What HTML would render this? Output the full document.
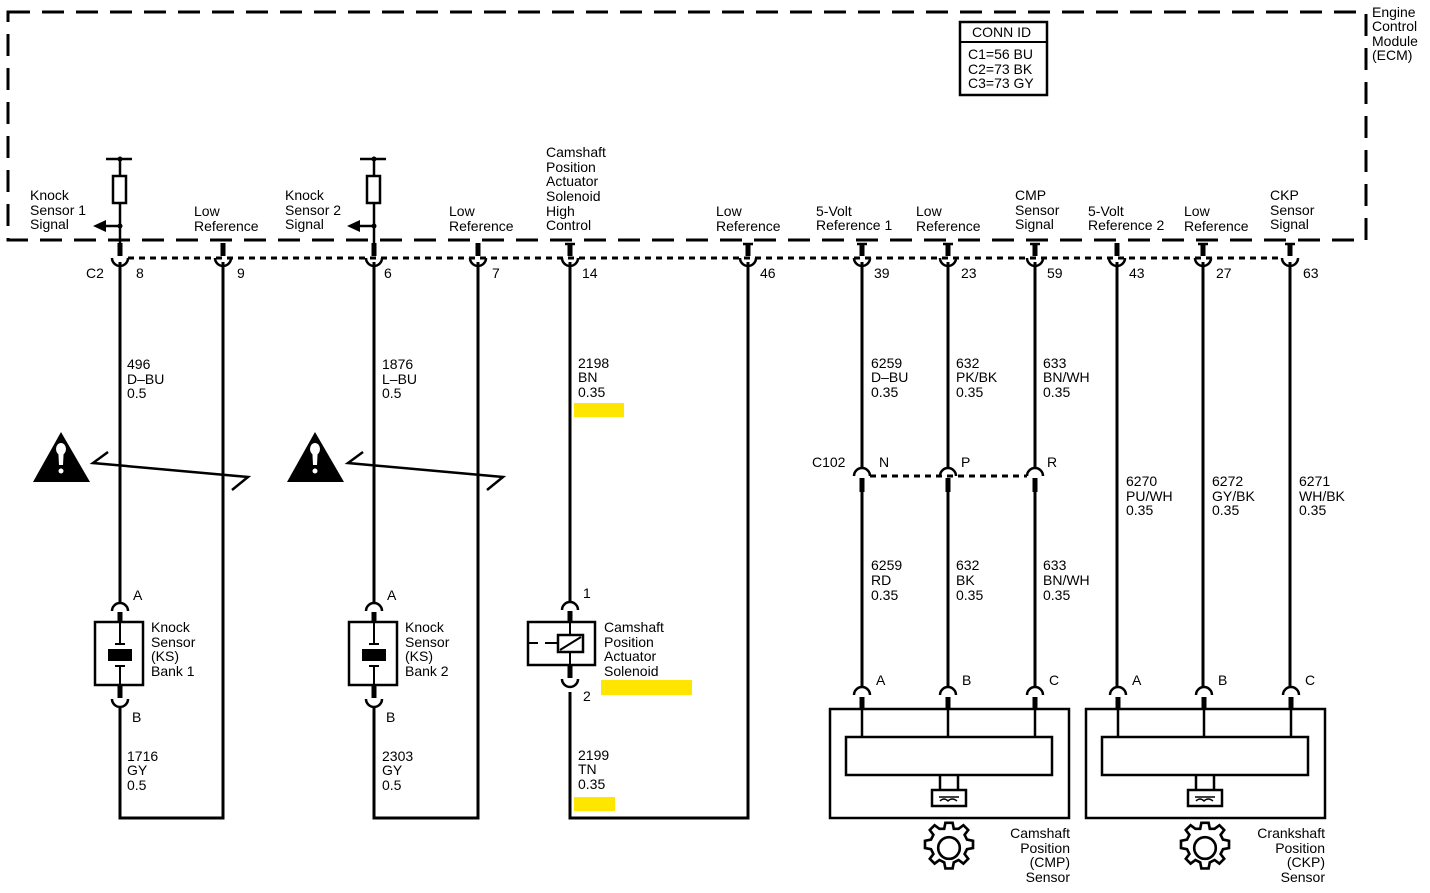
<!DOCTYPE html>
<html><head><meta charset="utf-8"><style>
html,body{margin:0;padding:0;background:#fff;}
svg{display:block;}
text{font-family:"Liberation Sans",sans-serif;font-size:14px;fill:#000;}
</style></head><body>
<svg width="1430" height="893" viewBox="0 0 1430 893" xmlns="http://www.w3.org/2000/svg">
<!-- ECM dashed box -->
<path d="M8 12 H1366 V240 H8 Z" fill="none" stroke="#000" stroke-width="3" stroke-dasharray="22 12"/>
<text x="1372" y="17">Engine</text><text x="1372" y="31">Control</text><text x="1372" y="46">Module</text><text x="1372" y="60">(ECM)</text>
<rect x="960" y="22" width="87" height="73" fill="none" stroke="#000" stroke-width="2.5"/>
<line x1="960" y1="42" x2="1047" y2="42" stroke="#000" stroke-width="2"/>
<text x="972" y="37">CONN ID</text>
<text x="968" y="59">C1=56 BU</text><text x="968" y="74">C2=73 BK</text><text x="968" y="88">C3=73 GY</text>

<!-- Connector C2 dashed line -->
<line x1="128" y1="258" x2="1282" y2="258" stroke="#000" stroke-width="3" stroke-dasharray="6 5"/>
<g fill="none" stroke="#000" stroke-width="2.5">
<path d="M112 258 A8 8 0 0 0 128 258"/><path d="M215 258 A8 8 0 0 0 231 258"/>
<path d="M366 258 A8 8 0 0 0 382 258"/><path d="M470 258 A8 8 0 0 0 486 258"/>
<path d="M562 258 A8 8 0 0 0 578 258"/><path d="M740 258 A8 8 0 0 0 756 258"/>
<path d="M854 258 A8 8 0 0 0 870 258"/><path d="M940 258 A8 8 0 0 0 956 258"/>
<path d="M1027 258 A8 8 0 0 0 1043 258"/><path d="M1109 258 A8 8 0 0 0 1125 258"/>
<path d="M1195 258 A8 8 0 0 0 1211 258"/><path d="M1282 258 A8 8 0 0 0 1298 258"/>
</g>
<g stroke="#000" stroke-width="5">
<line x1="120" y1="243" x2="120" y2="256"/><line x1="223" y1="243" x2="223" y2="256"/>
<line x1="374" y1="243" x2="374" y2="256"/><line x1="478" y1="243" x2="478" y2="256"/>
<line x1="570" y1="243" x2="570" y2="256"/><line x1="748" y1="243" x2="748" y2="256"/>
<line x1="862" y1="243" x2="862" y2="256"/><line x1="948" y1="243" x2="948" y2="256"/>
<line x1="1035" y1="243" x2="1035" y2="256"/><line x1="1117" y1="243" x2="1117" y2="256"/>
<line x1="1203" y1="243" x2="1203" y2="256"/><line x1="1290" y1="243" x2="1290" y2="256"/>
</g>
<g stroke="#000" stroke-width="2.5">
<line x1="565" y1="244" x2="575" y2="244"/><line x1="743" y1="244" x2="753" y2="244"/>
<line x1="857" y1="244" x2="867" y2="244"/><line x1="943" y1="244" x2="953" y2="244"/>
<line x1="1030" y1="244" x2="1040" y2="244"/><line x1="1198" y1="244" x2="1208" y2="244"/>
<line x1="1285" y1="244" x2="1295" y2="244"/>
</g>
<text x="86" y="278">C2</text>
<text x="136" y="278">8</text><text x="237" y="278">9</text><text x="384" y="278">6</text><text x="492" y="278">7</text>
<text x="582" y="278">14</text><text x="760" y="278">46</text><text x="874" y="278">39</text><text x="961" y="278">23</text>
<text x="1047" y="278">59</text><text x="1129" y="278">43</text><text x="1216" y="278">27</text><text x="1303" y="278">63</text>

<!-- ECM pin labels -->
<text x="30" y="200">Knock</text><text x="30" y="215">Sensor 1</text><text x="30" y="229">Signal</text>
<text x="194" y="216">Low</text><text x="194" y="231">Reference</text>
<text x="285" y="200">Knock</text><text x="285" y="215">Sensor 2</text><text x="285" y="229">Signal</text>
<text x="449" y="216">Low</text><text x="449" y="231">Reference</text>
<text x="546" y="157">Camshaft</text><text x="546" y="172">Position</text><text x="546" y="186">Actuator</text><text x="546" y="201">Solenoid</text><text x="546" y="216">High</text><text x="546" y="230">Control</text>
<text x="716" y="216">Low</text><text x="716" y="231">Reference</text>
<text x="816" y="216">5-Volt</text><text x="816" y="230">Reference 1</text>
<text x="916" y="216">Low</text><text x="916" y="231">Reference</text>
<text x="1015" y="200">CMP</text><text x="1015" y="215">Sensor</text><text x="1015" y="229">Signal</text>
<text x="1088" y="216">5-Volt</text><text x="1088" y="230">Reference 2</text>
<text x="1184" y="216">Low</text><text x="1184" y="231">Reference</text>
<text x="1270" y="200">CKP</text><text x="1270" y="215">Sensor</text><text x="1270" y="229">Signal</text>

<!-- internal resistors & arrows -->
<g stroke="#000" stroke-width="2.5" fill="none">
<line x1="106" y1="159" x2="132" y2="159"/><line x1="120" y1="159" x2="120" y2="176"/>
<rect x="113" y="176" width="13" height="27" fill="#fff"/><line x1="120" y1="203" x2="120" y2="243"/>
<line x1="104" y1="226" x2="120" y2="226"/>
<line x1="360" y1="159" x2="386" y2="159"/><line x1="374" y1="159" x2="374" y2="176"/>
<rect x="367" y="176" width="13" height="27" fill="#fff"/><line x1="374" y1="203" x2="374" y2="243"/>
<line x1="358" y1="226" x2="374" y2="226"/>
</g>
<circle cx="120" cy="159" r="2.5"/><circle cx="120" cy="226" r="2.5"/>
<circle cx="374" cy="159" r="2.5"/><circle cx="374" cy="226" r="2.5"/>
<polygon points="93,226 106,220 106,232"/><polygon points="347,226 360,220 360,232"/>

<!-- wires -->
<g stroke="#000" stroke-width="3" fill="none">
<line x1="120" y1="262" x2="120" y2="602"/>
<polyline points="223,262 223,818 120,818 120,706"/>
<line x1="374" y1="262" x2="374" y2="602"/>
<polyline points="478,262 478,818 374,818 374,706"/>
<line x1="570" y1="262" x2="570" y2="602"/>
<polyline points="748,262 748,818 570,818 570,692"/>
<line x1="862" y1="262" x2="862" y2="468"/><line x1="948" y1="262" x2="948" y2="468"/><line x1="1035" y1="262" x2="1035" y2="468"/>
<line x1="862" y1="490" x2="862" y2="687"/><line x1="948" y1="490" x2="948" y2="687"/><line x1="1035" y1="490" x2="1035" y2="687"/>
<line x1="1117" y1="262" x2="1117" y2="687"/><line x1="1203" y1="262" x2="1203" y2="687"/><line x1="1290" y1="262" x2="1290" y2="687"/>
</g>

<!-- wire labels -->
<text x="127" y="369">496</text><text x="127" y="384">D–BU</text><text x="127" y="398">0.5</text>
<text x="382" y="369">1876</text><text x="382" y="384">L–BU</text><text x="382" y="398">0.5</text>
<text x="578" y="368">2198</text><text x="578" y="382">BN</text><text x="578" y="397">0.35</text>
<rect x="574" y="403" width="50" height="14" fill="#ffe600"/>
<text x="871" y="368">6259</text><text x="871" y="382">D–BU</text><text x="871" y="397">0.35</text>
<text x="956" y="368">632</text><text x="956" y="382">PK/BK</text><text x="956" y="397">0.35</text>
<text x="1043" y="368">633</text><text x="1043" y="382">BN/WH</text><text x="1043" y="397">0.35</text>
<text x="1126" y="486">6270</text><text x="1126" y="501">PU/WH</text><text x="1126" y="515">0.35</text>
<text x="1212" y="486">6272</text><text x="1212" y="501">GY/BK</text><text x="1212" y="515">0.35</text>
<text x="1299" y="486">6271</text><text x="1299" y="501">WH/BK</text><text x="1299" y="515">0.35</text>
<text x="871" y="570">6259</text><text x="871" y="585">RD</text><text x="871" y="600">0.35</text>
<text x="956" y="570">632</text><text x="956" y="585">BK</text><text x="956" y="600">0.35</text>
<text x="1043" y="570">633</text><text x="1043" y="585">BN/WH</text><text x="1043" y="600">0.35</text>
<text x="127" y="761">1716</text><text x="127" y="775">GY</text><text x="127" y="790">0.5</text>
<text x="382" y="761">2303</text><text x="382" y="775">GY</text><text x="382" y="790">0.5</text>
<text x="578" y="760">2199</text><text x="578" y="774">TN</text><text x="578" y="789">0.35</text>
<rect x="574" y="797" width="41" height="14" fill="#ffe600"/>

<!-- warning + twisted pair -->
<polygon points="61,432 33,482 90,482"/>
<polygon points="58,446 64,446 63,465 59,465" fill="#fff"/><ellipse cx="61" cy="449" rx="5" ry="6" fill="#fff"/><circle cx="61" cy="471" r="2.5" fill="#fff"/>
<polyline points="108,452 93,463 248,477 232,490" fill="none" stroke="#000" stroke-width="2.5"/>
<polygon points="315,432 287,482 344,482"/>
<polygon points="312,446 318,446 317,465 313,465" fill="#fff"/><ellipse cx="315" cy="449" rx="5" ry="6" fill="#fff"/><circle cx="315" cy="471" r="2.5" fill="#fff"/>
<polyline points="363,452 348,463 503,477 487,490" fill="none" stroke="#000" stroke-width="2.5"/>

<!-- C102 -->
<text x="812" y="467">C102</text><text x="879" y="467">N</text><text x="961" y="467">P</text><text x="1047" y="467">R</text>
<line x1="870" y1="476" x2="1027" y2="476" stroke="#000" stroke-width="3" stroke-dasharray="6 5"/>
<g fill="none" stroke="#000" stroke-width="2.5">
<path d="M854 476 A8 8 0 0 1 870 476"/><path d="M940 476 A8 8 0 0 1 956 476"/><path d="M1027 476 A8 8 0 0 1 1043 476"/>
</g>
<g stroke="#000" stroke-width="5">
<line x1="862" y1="478" x2="862" y2="492"/><line x1="948" y1="478" x2="948" y2="492"/><line x1="1035" y1="478" x2="1035" y2="492"/>
</g>

<!-- Knock sensors -->
<g id="ks1">
<path d="M112 611 A8 8 0 0 1 128 611" fill="none" stroke="#000" stroke-width="2.5"/>
<line x1="120" y1="612" x2="120" y2="622" stroke="#000" stroke-width="5"/>
<rect x="95" y="622" width="48" height="63" fill="none" stroke="#000" stroke-width="2.5"/>
<line x1="120" y1="622" x2="120" y2="644" stroke="#000" stroke-width="2"/>
<line x1="115" y1="644" x2="125" y2="644" stroke="#000" stroke-width="2"/>
<rect x="108" y="649" width="24" height="12" fill="#000"/>
<line x1="115" y1="666" x2="125" y2="666" stroke="#000" stroke-width="2"/>
<line x1="120" y1="666" x2="120" y2="685" stroke="#000" stroke-width="2"/>
<line x1="120" y1="685" x2="120" y2="698" stroke="#000" stroke-width="5"/>
<path d="M112 699 A8 8 0 0 0 128 699" fill="none" stroke="#000" stroke-width="2.5"/>
</g>
<use href="#ks1" x="254"/>
<text x="133" y="600">A</text><text x="132" y="722">B</text>
<text x="387" y="600">A</text><text x="386" y="722">B</text>
<text x="151" y="632">Knock</text><text x="151" y="647">Sensor</text><text x="151" y="661">(KS)</text><text x="151" y="676">Bank 1</text>
<text x="405" y="632">Knock</text><text x="405" y="647">Sensor</text><text x="405" y="661">(KS)</text><text x="405" y="676">Bank 2</text>

<!-- Solenoid -->
<path d="M562 610 A8 8 0 0 1 578 610" fill="none" stroke="#000" stroke-width="2.5"/>
<line x1="570" y1="611" x2="570" y2="622" stroke="#000" stroke-width="5"/>
<rect x="528" y="622" width="67" height="43" fill="none" stroke="#000" stroke-width="2.5"/>
<line x1="570" y1="622" x2="570" y2="665" stroke="#000" stroke-width="2"/>
<rect x="558" y="635" width="25" height="17" fill="#fff" stroke="#000" stroke-width="2.5"/>
<line x1="560" y1="650" x2="581" y2="637" stroke="#000" stroke-width="2"/>
<line x1="528" y1="643" x2="538" y2="643" stroke="#000" stroke-width="2"/><line x1="545" y1="643" x2="558" y2="643" stroke="#000" stroke-width="2"/>
<line x1="570" y1="665" x2="570" y2="678" stroke="#000" stroke-width="5"/>
<path d="M562 679 A8 8 0 0 0 578 679" fill="none" stroke="#000" stroke-width="2.5"/>
<text x="583" y="598">1</text><text x="583" y="701">2</text>
<text x="604" y="632">Camshaft</text><text x="604" y="647">Position</text><text x="604" y="661">Actuator</text><text x="604" y="676">Solenoid</text>
<rect x="601" y="680" width="91" height="15" fill="#ffe600"/>

<!-- CMP / CKP sensors -->
<g id="sens">
<g fill="none" stroke="#000" stroke-width="2.5">
<path d="M854 695 A8 8 0 0 1 870 695"/><path d="M940 695 A8 8 0 0 1 956 695"/><path d="M1027 695 A8 8 0 0 1 1043 695"/>
<rect x="830" y="709" width="239" height="109"/>
<rect x="846" y="737" width="206" height="38"/>
<line x1="862" y1="709" x2="862" y2="737"/><line x1="948" y1="709" x2="948" y2="737"/><line x1="1035" y1="709" x2="1035" y2="737"/>
<line x1="940" y1="775" x2="940" y2="790"/><line x1="958" y1="775" x2="958" y2="790"/>
<rect x="932" y="790" width="34" height="16"/>
</g>
<g stroke="#000" stroke-width="5">
<line x1="862" y1="697" x2="862" y2="710"/><line x1="948" y1="697" x2="948" y2="710"/><line x1="1035" y1="697" x2="1035" y2="710"/>
</g>
<path d="M939 797 H959 M940 801 q4 -4 8 0 q4 -4 9 0" fill="none" stroke="#000" stroke-width="1.5"/>
<g transform="translate(949 848) scale(1.2) translate(-949 -848)">
<path d="M941 832 h4 l1 -5 h6 l1 5 h4 l4 -3 4 4 -3 4 2 4 5 1 v6 l-5 1 -2 4 3 4 -4 4 -4 -3 -4 2 -1 5 h-6 l-1 -5 -4 -2 -4 3 -4 -4 3 -4 -2 -4 -5 -1 v-6 l5 -1 2 -4 -3 -4 4 -4 z" fill="none" stroke="#000" stroke-width="2.2"/>
<circle cx="949" cy="848" r="9" fill="none" stroke="#000" stroke-width="2.2"/>
</g>
</g>
<use href="#sens" x="256"/>
<text x="876" y="685">A</text><text x="962" y="685">B</text><text x="1049" y="685">C</text>
<text x="1132" y="685">A</text><text x="1218" y="685">B</text><text x="1305" y="685">C</text>
<g text-anchor="end">
<text x="1070" y="838">Camshaft</text><text x="1070" y="853">Position</text><text x="1070" y="867">(CMP)</text><text x="1070" y="882">Sensor</text>
<text x="1325" y="838">Crankshaft</text><text x="1325" y="853">Position</text><text x="1325" y="867">(CKP)</text><text x="1325" y="882">Sensor</text>
</g>
</svg>
</body></html>
